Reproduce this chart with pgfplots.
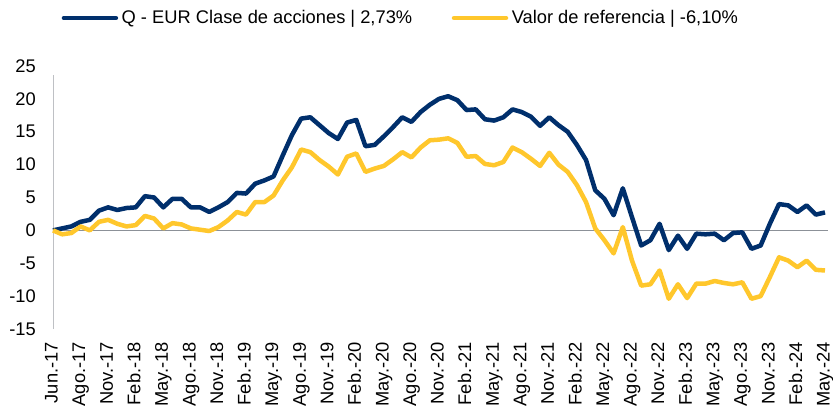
\documentclass[border=0pt]{standalone}
\usepackage{pgfplots}
\usepackage{pgfplotstable}
\pgfplotsset{compat=1.18}
\usepackage{fontspec}
\setmainfont{Liberation Sans}
\definecolor{qblue}{RGB}{0,47,108}
\definecolor{qyellow}{RGB}{255,199,44}
\definecolor{zgray}{RGB}{140,145,152}
\definecolor{agray}{RGB}{190,192,196}
\pgfplotstableread{
i q b
0 0 0
1 0.3 -0.6
2 0.6 -0.4
3 1.3 0.6
4 1.6 0.0
5 3.0 1.3
6 3.5 1.6
7 3.1 1.0
8 3.4 0.6
9 3.5 0.8
10 5.2 2.2
11 5.0 1.8
12 3.5 0.3
13 4.8 1.1
14 4.8 0.9
15 3.5 0.3
16 3.5 0.1
17 2.8 -0.1
18 3.5 0.5
19 4.3 1.5
20 5.7 2.8
21 5.6 2.4
22 7.1 4.3
23 7.6 4.3
24 8.2 5.3
25 11.4 7.6
26 14.5 9.6
27 17.0 12.3
28 17.2 11.9
29 16.0 10.7
30 14.8 9.7
31 13.9 8.5
32 16.4 11.2
33 16.8 11.7
34 12.8 8.9
35 13.0 9.4
36 14.3 9.8
37 15.7 10.8
38 17.2 11.9
39 16.5 11.1
40 18.0 12.6
41 19.1 13.7
42 20.0 13.8
43 20.4 14.0
44 19.8 13.3
45 18.3 11.2
46 18.4 11.3
47 16.9 10.1
48 16.7 9.9
49 17.2 10.4
50 18.4 12.6
51 18.0 11.9
52 17.3 10.9
53 15.9 9.8
54 17.2 11.8
55 16.0 10.0
56 15.0 8.9
57 13.0 6.9
58 10.7 4.3
59 6.1 0.3
60 4.8 -1.5
61 2.3 -3.5
62 6.4 0.5
63 2.0 -4.6
64 -2.3 -8.4
65 -1.5 -8.2
66 1.0 -6.1
67 -3.0 -10.4
68 -0.8 -8.2
69 -2.8 -10.3
70 -0.5 -8.1
71 -0.6 -8.1
72 -0.5 -7.7
73 -1.5 -8.0
74 -0.4 -8.2
75 -0.3 -7.9
76 -2.8 -10.4
77 -2.3 -10.0
78 1.0 -7.1
79 4.0 -4.1
80 3.8 -4.6
81 2.8 -5.6
82 3.8 -4.6
83 2.4 -6.0
84 2.73 -6.1
}\datatable
\begin{document}
\fontsize{18.3bp}{22bp}\selectfont
\begin{tikzpicture}
\path[use as bounding box] (0,0) rectangle (833bp,410bp);
\begin{axis}[
  at={(53bp,81bp)}, anchor=south west,
  scale only axis, width=772bp, height=263bp,
  xmin=0, xmax=84, ymin=-15, ymax=25,
  axis line style={draw=none},
  tick style={draw=none},
  major tick length=0pt,
  font=\fontsize{18.3bp}{22bp}\selectfont,
  xtick={0,3,...,84},
  xticklabels={Jun.-17,Ago.-17,Nov.-17,Feb.-18,May.-18,Ago.-18,Nov.-18,Feb.-19,May.-19,Ago.-19,Nov.-19,Feb.-20,May.-20,Ago.-20,Nov.-20,Feb.-21,May.-21,Ago.-21,Nov.-21,Feb.-22,May.-22,Ago.-22,Nov.-22,Feb.-23,May.-23,Ago.-23,Nov.-23,Feb.-24,May.-24},
  xticklabel style={rotate=90, anchor=east, inner sep=0pt, text height=0.72em, text depth=0.21em},
  xticklabel shift=13bp,
  ytick={-15,-10,...,25},
  yticklabels={-15,-10,-5,0,5,10,15,20,25},
  yticklabel style={anchor=east, inner sep=0pt},
  yticklabel shift=17bp,
  clip=false,
  legend columns=2,
  legend image code/.code={\draw[#1, line cap=round] (0bp,0bp) -- (52bp,0bp);},
  legend style={at={(0.011,1.1825)}, anchor=west, draw=none, fill=none, inner sep=0pt,
    nodes={inner xsep=3.5bp, inner ysep=2bp, anchor=west},
    /tikz/every even column/.append style={column sep=36bp}},
]
\draw[agray, line width=1bp] (axis cs:0,-15) -- (axis cs:0,23.7);
\draw[zgray, line width=1.5bp] (axis cs:0,0) -- (axis cs:84.3,0);
\addplot[qblue, line width=4.5bp, line join=round] table[x=i, y=q] {\datatable};
\addlegendentry{Q - EUR Clase de acciones | 2,73\%}
\addplot[qyellow, line width=4.5bp, line join=round] table[x=i, y=b] {\datatable};
\addlegendentry{Valor de referencia | -6,10\%}
\end{axis}
\end{tikzpicture}
\end{document}
